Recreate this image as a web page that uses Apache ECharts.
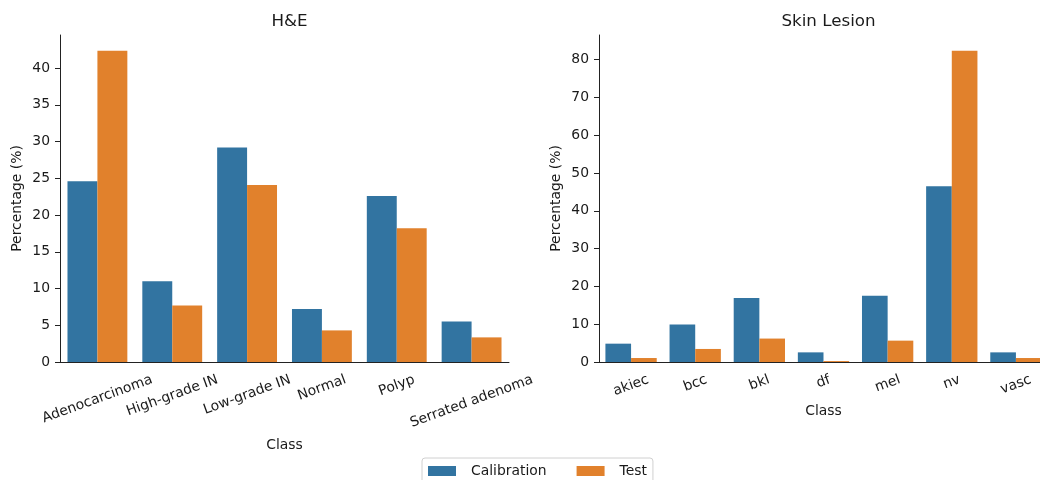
<!DOCTYPE html>
<html><head><meta charset="utf-8">
<script src="https://cdn.jsdelivr.net/npm/echarts@6/dist/echarts.min.js"></script>
<style>html,body{margin:0;padding:0;background:#fff}#c{width:1040px;height:480px}</style>
</head><body><div id="c"></div>
<script>
const heCategories = ['Adenocarcinoma','High-grade IN','Low-grade IN','Normal','Polyp','Serrated adenoma'];
const heCalibration = [24.6, 11.0, 29.2, 7.2, 22.6, 5.5];
const heTest = [42.36, 7.7, 24.1, 4.3, 18.2, 3.35];
const skinCategories = ['akiec','bcc','bkl','df','mel','nv','vasc'];
const skinCalibration = [4.85, 9.9, 16.9, 2.55, 17.5, 46.5, 2.55];
const skinTest = [1.05, 3.45, 6.2, 0.25, 5.65, 82.36, 1.05];
const heTicks = [0,5,10,15,20,25,30,35,40];
const skinTicks = [0,10,20,30,40,50,60,70,80];
const seriesNames = ['Calibration','Test'];

const FONT = 'DejaVu Sans';
const FS = 13.9;
const TXT = '#1a1a1a';
const AX = '#222';
const BLUE = '#3274a1', ORANGE = '#e1812c';

const ctx = document.createElement('canvas').getContext('2d');
ctx.font = FS + 'px "' + FONT + '"';
const th = 20 * Math.PI / 180;
const M = 10;
function richFor(cats) {
  const rich = {};
  cats.forEach((c, i) => {
    const w = ctx.measureText(c).width;
    const H = w * Math.sin(th) + 16.2 * Math.cos(th);
    const d = 9.7 + H / 2;
    const k = Math.max(0, d - M);
    rich['p' + i] = {fontFamily: FONT, fontSize: FS, color: TXT,
      padding: [2 * k * Math.cos(th), 2 * k * Math.sin(th), 0, 0]};
  });
  return rich;
}

const chart = echarts.init(document.getElementById('c'), null, {renderer: 'canvas'});
function xAxisCfg(idx, cats, gap) {
  return {
    type: 'category', gridIndex: idx, data: cats,
    boundaryGap: true,
    name: 'Class', nameLocation: 'middle', nameGap: gap,
    nameTextStyle: {fontFamily: FONT, fontSize: FS, color: TXT},
    axisLine: {lineStyle: {color: AX, width: 1}},
    axisTick: {alignWithLabel: true, length: 5, lineStyle: {color: AX}},
    axisLabel: {interval: 0, rotate: 20, align: 'center', verticalAlign: 'middle', margin: M,
      hideOverlap: false, fontFamily: FONT, fontSize: FS, color: TXT,
      formatter: (v, i) => '{p' + i + '|' + v + '}', rich: richFor(cats)},
    splitLine: {show: false}
  };
}
function yAxisCfg(idx, max, ticks) {
  return {
    type: 'value', gridIndex: idx, min: 0, max: max,
    name: 'Percentage (%)', nameLocation: 'middle', nameGap: 36,
    nameTextStyle: {fontFamily: FONT, fontSize: FS, color: TXT},
    axisLine: {show: true, lineStyle: {color: AX, width: 1}},
    axisTick: {show: true, length: 5, lineStyle: {color: AX}, customValues: ticks},
    axisLabel: {margin: 10, fontFamily: FONT, fontSize: FS, color: TXT, customValues: ticks},
    splitLine: {show: false}
  };
}
function bar(name, data, xi, color) {
  return {type: 'bar', name: name, data: data, xAxisIndex: xi, yAxisIndex: xi,
    barGap: '0%', barCategoryGap: '20%', itemStyle: {color: color}};
}
chart.setOption({
  animation: false,
  backgroundColor: '#fff',
  title: [
    {text: 'H&E', left: 284.5, top: 8, textAlign: 'center',
     textStyle: {fontFamily: FONT, fontSize: 16.7, fontWeight: 'normal', color: TXT}},
    {text: 'Skin Lesion', left: 823.5, top: 8, textAlign: 'center',
     textStyle: {fontFamily: FONT, fontSize: 16.7, fontWeight: 'normal', color: TXT}}
  ],
  legend: {
    data: seriesNames, left: 422, top: 458, orient: 'horizontal',
    icon: 'rect', itemWidth: 28, itemHeight: 10, itemGap: 30,
    padding: [6, 6, 6, 6], borderColor: '#d0d0d0', borderWidth: 1, borderRadius: 3,
    textStyle: {fontFamily: FONT, fontSize: FS, color: TXT, padding: [0, 0, 0, 10]}
  },
  grid: [
    {left: 60, right: 531, top: 35, bottom: 118, containLabel: false, outerBoundsMode: 'none'},
    {left: 599, right: -8, top: 35, bottom: 118, containLabel: false, outerBoundsMode: 'none'}
  ],
  xAxis: [xAxisCfg(0, heCategories, 76), xAxisCfg(1, skinCategories, 42)],
  yAxis: [yAxisCfg(0, 44.5, heTicks), yAxisCfg(1, 86.5, skinTicks)],
  series: [
    bar(seriesNames[0], heCalibration, 0, BLUE),
    bar(seriesNames[1], heTest, 0, ORANGE),
    bar(seriesNames[0], skinCalibration, 1, BLUE),
    bar(seriesNames[1], skinTest, 1, ORANGE)
  ]
});
</script></body></html>
